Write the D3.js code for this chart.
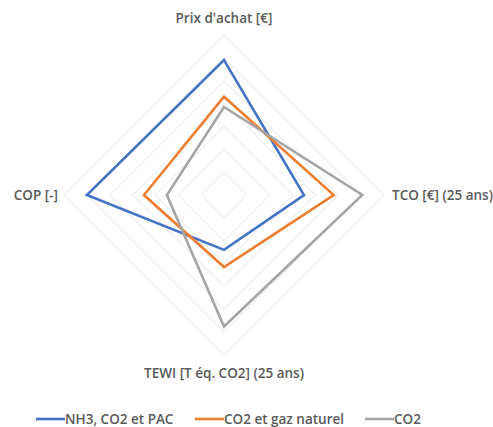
<!DOCTYPE html>
<html>
<head>
<meta charset="utf-8">
<script src="https://cdn.jsdelivr.net/npm/d3@7"></script>
<style>
    body { margin: 0; background: #fff; }
    text { font-family: "Open Sans", Lato, sans-serif; fill: #595959; }
    .axis-label { font-size: 13.5px; font-weight: 600; }
    .legend-label { font-size: 13.5px; font-weight: 600; }
</style>
</head>
<body>
<svg id="chart" width="493" height="427"></svg>
<script>
// axes, clockwise from the top
const axes = ["Prix d'achat [€]", "TCO [€] (25 ans)", "TEWI [T éq. CO2] (25 ans)", "COP [-]"];
const seriesNames = ["NH3, CO2 et PAC", "CO2 et gaz naturel", "CO2"];
const seriesColors = ["#4472C4", "#ED7D31", "#A5A5A5"];
const nh3Values = [5.9, 3.5, 2.4, 6.0];
const gazValues = [4.3, 4.8, 3.15, 3.5];
const co2Values = [3.85, 6.05, 5.75, 2.5];
const gridLevels = [1, 2, 3, 4, 5, 6, 7];

const series = [nh3Values, gazValues, co2Values];

const svg = d3.select("#chart");
const cx = 224, cy = 195, radius = 160;

const r = d3.scaleLinear().domain([0, 7]).range([0, radius]);
const angle = d3.scalePoint().domain(d3.range(axes.length + 1)).range([0, 2 * Math.PI]);

const radial = d3.lineRadial()
    .angle((d, i) => angle(i))
    .radius((d) => r(d))
    .curve(d3.curveLinearClosed);

const g = svg.append("g").attr("transform", `translate(${cx},${cy})`);

// grid rings
g.selectAll(".ring")
    .data(gridLevels)
    .enter()
    .append("path")
    .attr("class", "ring")
    .attr("d", (lvl) => radial(axes.map(() => lvl)))
    .attr("fill", "none")
    .attr("stroke", "#E1E4E8")
    .attr("stroke-width", 1);

// series
g.selectAll(".serie")
    .data(series)
    .enter()
    .append("path")
    .attr("class", "serie")
    .attr("d", (d) => radial(d))
    .attr("fill", "none")
    .attr("stroke", (d, i) => seriesColors[i])
    .attr("stroke-width", 2.6)
    .attr("stroke-linejoin", "miter");

// axis labels
const labelPos = [
    { x: 0, y: -radius - 17, anchor: "middle" },
    { x: radius + 8, y: 0, anchor: "start" },
    { x: 0, y: radius + 18, anchor: "middle" },
    { x: -radius - 6, y: 0, anchor: "end" },
];
g.selectAll(".axis-label")
    .data(axes)
    .enter()
    .append("text")
    .attr("class", "axis-label")
    .attr("x", (d, i) => labelPos[i].x)
    .attr("y", (d, i) => labelPos[i].y)
    .attr("text-anchor", (d, i) => labelPos[i].anchor)
    .attr("dominant-baseline", "central")
    .text((d) => d);

// legend
const legendX = [36, 195, 365];
const legend = svg.append("g").attr("transform", "translate(0,419)");
const item = legend.selectAll(".item")
    .data(seriesNames)
    .enter()
    .append("g")
    .attr("transform", (d, i) => `translate(${legendX[i]},0)`);

item.append("line")
    .attr("x1", 0)
    .attr("x2", 29)
    .attr("stroke", (d, i) => seriesColors[i])
    .attr("stroke-width", 2.6);

item.append("text")
    .attr("class", "legend-label")
    .attr("x", 29)
    .attr("dominant-baseline", "central")
    .text((d) => d);
</script>
</body>
</html>
